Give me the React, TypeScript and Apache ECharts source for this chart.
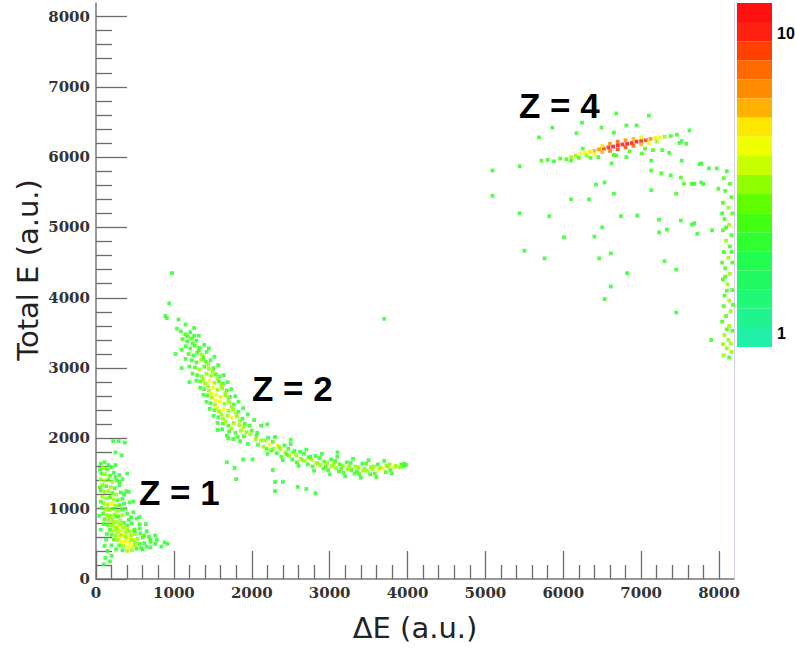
import React, { useEffect, useRef } from "react";
import * as echarts from "echarts";

// ---- axis ticks ----
const MAJOR_TICKS = [0, 1000, 2000, 3000, 4000, 5000, 6000, 7000, 8000];
const MINOR_TICKS = [200, 400, 600, 800, 1200, 1400, 1600, 1800, 2200, 2400, 2600, 2800, 3200, 3400, 3600, 3800, 4200, 4400, 4600, 4800, 5200, 5400, 5600, 5800, 6200, 6400, 6600, 6800, 7200, 7400, 7600, 7800];
const AXIS_MAX = 8192;

// ---- colour scale (log z, from 0.9 to 12.6 counts) ----
const PALETTE = ["#20f0a8", "#20f490", "#20f878", "#20fa60", "#20ff50", "#30ff30", "#40ff10", "#60ff00", "#90ff00", "#c8ff00", "#f0ff00", "#ffe800", "#ffb000", "#ff8c00", "#ff6a00", "#ff4000", "#ff2010", "#ff1010"];
const Z_LOG_MIN = -0.0467;
const Z_LOG_MAX = 1.1;

// ---- data: [ΔE, Total E, counts] ----
const Z1 = [
  [60,1640,2],[110,1660,2.5],[160,1620,2],[90,1580,3],[140,1560,2.5],[200,1590,2],[250,1620,2],[70,1500,2.5],[120,1490,3],[180,1470,2.5],
  [230,1510,2],[300,1480,2],[60,1420,3],[110,1400,3],[160,1410,2.5],[210,1380,3],[270,1400,2],[340,1420,2],[80,1340,3],[130,1320,2.5],
  [190,1310,3],[240,1290,2.5],[300,1330,2],
  [60,1260,2.5],[110,1240,3],[160,1250,3],[210,1220,2.5],[260,1200,3],[320,1230,2],[390,1250,2],[80,1170,3],[130,1150,3],[180,1160,2.5],
  [230,1130,3],[280,1120,2.5],[340,1140,2],[100,1080,3],[150,1060,3],[200,1070,4],[250,1040,3],[300,1050,2.5],[360,1070,2],[430,1090,2],
  [70,1010,2],[120,990,3],[170,980,3],[220,1000,2.5],[280,970,3],[330,990,2],
  [90,930,2.5],[140,910,3],[190,900,3],[240,920,3],[290,890,2.5],[340,910,3],[400,930,2],[480,950,2],[110,850,2.5],[160,830,3],
  [210,840,3],[260,810,3],[310,830,3],[360,800,2.5],[420,840,2],[520,860,2],[150,770,2.5],[200,760,3],[250,740,3],[300,760,4],
  [350,730,3],[400,760,2.5],[460,790,2],
  [180,700,2.5],[230,690,3],[280,670,3],[330,690,4],[380,660,3],[430,680,3],[490,700,2.5],[560,720,2],[200,630,2.5],[250,620,3],
  [300,600,4],[350,610,4],[400,590,4],[450,620,3],[500,640,3],[570,650,2],[650,680,2],[230,560,2.5],[280,550,3],[330,530,4],
  [380,540,5],[430,520,4],[480,550,3],[530,570,3],[600,590,2.5],[680,600,2],[760,620,2],
  [300,480,2.5],[350,470,3],[400,460,4],[450,470,4],[500,480,3],[560,500,2.5],[620,510,2],[700,530,2],[780,560,2],[880,520,2],
  [340,410,2],[400,400,3],[460,410,3],[520,430,2.5],[580,440,2],[650,460,2],
  [560,780,2],[620,620,2.5],[700,560,2.5],[760,500,2],[840,460,2],[920,500,2],[600,420,2],[700,450,2],[500,520,3],[450,560,3],
  [380,600,3],[320,630,3],[270,720,3],[220,800,3],[180,880,3],[150,1000,3],[260,890,2.5],[310,780,3],[400,700,3],[500,680,2.5],
  [450,880,2],[380,1000,2],[360,1200,2],[300,1380,2],[250,1450,2],[50,1560,2],[50,1300,2.5],[40,900,2],[100,780,2],[140,640,2],
  [200,480,2],[260,420,2],[110,470,2],[130,560,2],
  [220,1960,2],[290,1960,2],[370,1940,2],[250,1800,2],[330,1760,2],[420,1240,2],[480,1100,2],[560,880,2],[640,780,2],[120,300,2],
  [180,250,2],[100,210,2],[200,330,2],[150,400,2],[60,700,2],[60,1100,2],[400,1500,2]
];

const Z2 = [
  [1090,3520,2],[1150,3480,2.5],[1210,3510,2],[1260,3460,2],
  [1110,3410,2.5],[1170,3380,2],[1230,3420,2.5],[1290,3390,2],
  [1150,3310,2],[1210,3280,2.5],[1270,3320,2.5],[1330,3290,2],[1390,3330,2],
  [1190,3200,2.5],[1250,3180,2],[1300,3220,2.5],[1360,3190,3],[1420,3230,2],
  [1230,3110,2],[1290,3080,2.5],[1350,3120,3],[1410,3090,2.5],[1470,3110,2],
  [1270,3010,2.5],[1330,2980,3],[1390,3020,2.5],[1450,2990,3],[1510,3000,2],
  [1300,2900,2],[1360,2880,3],[1420,2920,3],[1480,2890,3],[1540,2910,2.5],[1590,2880,2],
  [1340,2810,2.5],[1400,2780,3],[1460,2820,4],[1520,2790,3],[1580,2810,2.5],[1630,2780,2],
  [1390,2700,2.5],[1450,2680,3],[1500,2720,4],[1560,2690,3],[1620,2710,3],[1680,2680,2],
  [1430,2610,2.5],[1490,2580,3],[1540,2620,4],[1600,2590,5],[1660,2610,3],[1720,2590,2],
  [1470,2500,2],[1530,2480,3],[1590,2520,4],[1650,2490,3],[1710,2510,3],[1770,2480,2],
  [1520,2400,2.5],[1580,2380,3],[1640,2420,4],[1700,2390,3],[1760,2410,3],[1830,2380,2],
  [1570,2300,2],[1630,2280,3],[1690,2320,3],[1750,2290,4],[1810,2310,3],[1880,2280,2],
  [1630,2210,2],[1700,2180,2.5],[1770,2220,3],[1840,2190,3],[1910,2210,2.5],[1970,2180,2],
  [1710,2100,2],[1790,2080,2.5],[1860,2110,3],[1930,2090,3],[2000,2110,2.5],[2070,2080,2],
  [2080,1910,2],[2120,1970,3],[2060,2040,2.5],
  [2190,1850,2.5],[2230,1910,4],[2170,1970,3],[2210,2010,2],
  [2320,1790,2],[2280,1850,3],[2330,1900,4],[2270,1950,2.5],
  [2380,1740,2.5],[2430,1800,3],[2370,1850,3],[2420,1900,2],
  [2520,1700,2],[2480,1750,3],[2530,1800,3],[2470,1850,2.5],
  [2580,1660,2.5],[2630,1710,3],[2570,1760,3],[2620,1810,2],
  [2720,1630,2],[2680,1680,3],[2730,1730,2.5],[2670,1780,2],
  [2780,1600,2.5],[2830,1650,3],[2770,1700,3],[2820,1750,2],
  [2920,1570,2],[2880,1620,3],[2930,1670,2.5],[2870,1720,2],
  [2980,1550,2.5],[3030,1600,3],[2970,1650,3],[3020,1700,2],
  [3120,1530,2],[3080,1580,3],[3130,1630,2.5],[3070,1680,2],
  [3180,1510,2.5],[3230,1560,3],[3170,1610,3],[3220,1660,2],
  [3320,1500,2],[3280,1550,2.5],[3330,1600,3],[3270,1650,2],
  [3380,1490,2.5],[3430,1540,3],[3370,1590,3],[3420,1640,2],
  [3520,1490,2],[3480,1540,3],[3530,1590,3],[3470,1640,2.5],
  [3580,1500,2.5],[3630,1550,4],[3570,1600,3],[3620,1630,2],
  [3720,1520,2],[3680,1570,4],[3730,1610,3],
  [3780,1550,2.5],[3830,1590,4],[3770,1630,3],
  [3900,1590,3],[3920,1630,2.5],[3980,1620,2.5],[3960,1640,2],
  [2150,1880,3],[2250,1830,2.5],[2350,1880,3],[2450,1770,2.5],[2550,1820,2],[2650,1690,3],[2750,1740,2.5],[2850,1640,3],[2950,1600,2.5],[3050,1640,3],
  [3150,1570,2.5],[3250,1600,3],[3350,1530,2.5],[3450,1570,3],[3550,1560,3],[3650,1580,3],[3750,1600,3],[3850,1610,3],[3950,1600,2],
  [1040,3560,2],[1320,3460,2],[1450,3280,2],[1520,3160,2],[1570,3040,2],[1640,2900,2],[1690,2800,2],[1740,2700,2],[1790,2600,2],[1830,2520,2],
  [1890,2430,2],[1950,2340,2],[2030,2260,2],[2120,2180,2],
  [1100,3260,2],[1150,3130,2],[1200,3020,2],[1240,2920,2],[1290,2820,2],[1340,2720,2],[1380,2620,2],[1420,2520,2],[1460,2420,2],[1510,2320,2],
  [1560,2220,2],[1620,2130,2],[1680,2040,2],[1760,1990,2],[1850,1960,2],[1950,1920,2],
  [2300,2020,2],[2500,1920,2],[2700,1840,2],[2900,1780,2],[3100,1740,2],[3300,1710,2],[3500,1690,2],[3700,1680,2],
  [2200,1780,2],[2400,1690,2],[2600,1610,2],[2800,1540,2],[3000,1490,2],[3200,1460,2],[3400,1440,2],[3600,1450,2],[3800,1500,2],
  [1180,3450,2.5],[1240,3350,2.5],[1320,3250,2.5],[1380,3150,2.5],[1440,3050,3],[1500,2950,3],[1560,2850,3],[1610,2750,3],[1660,2650,3],[1700,2550,3],
  [1740,2450,3],[1800,2350,3],[1850,2250,3],[1900,2160,3],[1980,2060,3],[2050,1990,3],
  [1380,2840,3],[1440,2740,3],[1480,2640,4],[1530,2540,4],[1560,2440,4],[1610,2340,3],[1660,2240,3],[1740,2140,3],[1820,2020,2.5],[1900,2030,2.5],
  [975,4350,2],[940,3920,2],[890,3740,2],[910,3710,2],[1060,3690,2],[1150,3620,2],[1260,3570,2],[1020,3200,2],[1100,3000,2],[1200,2800,2],
  [1700,2000,2],[1560,2120,2],[1680,1660,2],[1780,1580,2],[1800,1420,2],[1890,1700,2],[2010,1700,2],[2270,1550,2],[2300,1380,2],[2300,1250,2],
  [2400,1380,2],[2590,1310,2],[2700,1280,2],[2820,1220,2],[2200,2200,2],[2500,1980,2],[3700,3700,2],[3100,1800,2]
];

const Z4 = [
  [5720,5950,2.5],[5800,5960,2.5],[5880,5940,2],[5960,5980,2.5],[6040,5970,2.5],
  [6100,6000,3],[6160,6020,3],[6220,6050,4],[6280,6060,4],[6340,6080,5],[6400,6090,6],[6460,6110,7],[6520,6120,9],[6580,6140,10],[6640,6150,11],
  [6700,6170,12],[6760,6180,12],[6820,6190,12],[6880,6200,11],[6940,6220,11],[7000,6230,10],[7060,6240,9],[7120,6260,7],[7180,6270,5],[7240,6280,4],
  [7300,6290,3],[7380,6300,2.5],[7460,6320,2.5],
  [6300,6020,3],[6400,6040,4],[6500,6070,6],[6600,6090,8],[6700,6110,9],[6800,6140,9],[6900,6160,8],[7000,6180,6],[7100,6200,4],[7200,6220,3],
  [6500,6160,5],[6600,6190,7],[6700,6220,8],[6800,6240,7],[6900,6260,6],[7000,6280,4],[6200,5990,2.5],[6100,5950,2.5],[6350,5990,2.5],
  [6250,6120,2],[6450,6000,2.5],[6650,6030,2.5],[6850,6080,2.5],[7050,6120,2.5],[7150,6100,2.5],[7270,6100,2.5],[7360,6060,2],[6620,5910,2],[6680,6020,2.5],
  [6810,6000,2],[7010,6050,2.5],[7520,6230,2],[7580,6190,2],[7490,6200,2],
  [6490,6420,2.5],[6170,6340,2],[6650,6350,2],[6810,6450,2],[6940,6450,2],[5860,6420,2],[6240,6490,2],[6680,6620,2],[7100,6590,2],[7620,6380,2],
  [5690,6280,2],[7130,5950,2],[7520,5950,2],
  [5090,5810,2],[5440,5870,2],[5090,5450,2],[5440,5200,2],[5820,5160,2],[5500,4670,2],[5760,4560,2],[6010,4860,2],[6100,5400,2],[6330,5400,2],
  [6420,5610,2],[6530,5640,2],[6400,4870,2],[6500,5000,2],[6460,4560,2],[6610,4630,2],[6820,4350,2],[6610,4160,2],[6530,3980,2],[6740,5160,2],
  [6950,5170,2],[6650,5480,2],[7130,5530,2],[7230,5110,2],[7330,4970,2],[7230,4930,2],[7300,4520,2],[7450,4400,2],[7450,3790,2],[7510,5100,2],
  [7650,5040,2],[7720,4910,2],[7450,5480,2.5],[7550,5620,2.5],[7650,5620,2.5],[7770,5640,2],[7990,5550,2.5],[7130,5810,2.5],[7260,5770,2.5],[7380,5740,2],
  [7510,5710,2.5],[7770,5910,2],
  [7750,5900,2],[7680,5620,2],[7800,5620,2],[7870,5840,2],[7970,5840,2],[7680,5060,2],[7910,4960,2],[7900,3400,2]
];

const EDGE = [
  [8100,5800,2],[8060,5700,2.5],[8140,5620,2.5],[8080,5520,2.5],[8160,5430,2.5],[8050,5350,2.5],[8120,5280,3],[8170,5200,2.5],[8070,5120,2.5],[8130,5040,3],
  [8050,4960,2.5],[8160,4890,2.5],[8090,4810,3],[8140,4730,2.5],[8060,4650,2.5],[8120,4570,3],[8170,4500,2.5],[8080,4420,2.5],[8140,4340,3],[8050,4260,2.5],
  [8110,4190,3],[8170,4110,2.5],[8070,4030,2.5],[8130,3960,3],[8060,3880,2.5],[8150,3810,3],[8090,3740,2.5],[8040,3660,2.5],[8130,3600,3],[8170,3530,2.5],
  [8070,3470,3],[8120,3400,3],[8050,3340,3],[8100,3280,3],[8160,3230,3],[8060,3180,3],[8130,3150,2.5],[8090,5000,2.5],[8100,4100,2.5],[8100,3550,2.5],
  [8040,4500,2],[8180,3900,2.5],[8040,5200,2],[8160,4650,2.5],[8080,4300,2.5],[8150,3350,3]
];

const ALL_POINTS = [...Z1, ...Z2, ...Z4, ...EDGE];

const Y_NAME = "Total E (a.u.)";
const X_NAME = "\u0394E (a.u.)";

export default function App() {
  const ref = useRef<HTMLDivElement>(null);
  useEffect(() => {
    if (!ref.current) return;
    const chart = echarts.init(ref.current, null, { renderer: "svg" });
    const n = PALETTE.length;
    const step = (Z_LOG_MAX - Z_LOG_MIN) / n;
    const pieces = PALETTE.map((c, i) => ({
      gte: Math.pow(10, Z_LOG_MIN + i * step),
      lt: Math.pow(10, Z_LOG_MIN + (i + 1) * step),
      color: c,
    }));
    const labelFont = { fontFamily: "DejaVu Serif", fontWeight: "bold" as const, fontSize: 15, color: "#333", formatter: (v: number) => String(v) };
    const tickStyle = { color: "#6a6a6a", width: 1.3 };
    const axisCommon = (extra: any) => ({
      type: "value",
      min: 0,
      max: AXIS_MAX,
      splitLine: { show: false },
      ...extra,
    });
    chart.setOption({
      animation: false,
      backgroundColor: "#ffffff",
      grid: { left: 96, top: 3, width: 638, height: 576, containLabel: false },
      xAxis: [
        axisCommon({
          position: "bottom",
          axisLine: { show: true, lineStyle: { color: "#777", width: 1.5 } },
          axisTick: { show: true, inside: true, length: 28, customValues: MAJOR_TICKS, lineStyle: tickStyle },
          axisLabel: { ...labelFont, margin: 6, customValues: MAJOR_TICKS },
          name: X_NAME,
          nameLocation: "middle",
          nameGap: 34,
          nameTextStyle: { fontFamily: "DejaVu Sans", fontSize: 29, color: "#222" },
        }),
        axisCommon({
          position: "bottom",
          axisLine: { show: false },
          axisTick: { show: true, inside: true, length: 14, customValues: MINOR_TICKS, lineStyle: tickStyle },
          axisLabel: { show: false },
        }),
      ],
      yAxis: [
        axisCommon({
          position: "left",
          axisLine: { show: true, lineStyle: { color: "#777", width: 1.5 } },
          axisTick: { show: true, inside: true, length: 31, customValues: MAJOR_TICKS, lineStyle: tickStyle },
          axisLabel: { ...labelFont, margin: 6, customValues: MAJOR_TICKS },
        }),
        axisCommon({
          position: "left",
          axisLine: { show: false },
          axisTick: { show: true, inside: true, length: 16, customValues: MINOR_TICKS, lineStyle: tickStyle },
          axisLabel: { show: false },
        }),
        axisCommon({
          position: "right",
          axisLine: { show: true, lineStyle: { color: "#d6d0ea", width: 1 } },
          axisTick: { show: false },
          axisLabel: { show: false },
        }),
      ],
      visualMap: {
        type: "piecewise",
        dimension: 2,
        seriesIndex: 0,
        pieces,
        orient: "vertical",
        left: 737,
        top: 3,
        itemWidth: 35,
        itemHeight: 344 / n,
        itemGap: 0,
        itemSymbol: "rect",
        showLabel: false,
        padding: 0,
        selectedMode: false,
        hoverLink: false,
      },
      series: [
        {
          type: "scatter",
          xAxisIndex: 0,
          yAxisIndex: 0,
          symbol: "rect",
          symbolSize: 3.8,
          silent: true,
          itemStyle: { opacity: 0.85 },
          data: ALL_POINTS,
        },
      ],
      graphic: [
        {
          type: "text",
          x: 28,
          y: 270,
          rotation: Math.PI / 2,
          style: { text: Y_NAME, fontFamily: "DejaVu Sans", fontSize: 29, fill: "#222", align: "center", verticalAlign: "middle" },
        },
        { type: "text", x: 139, y: 492, style: { text: "Z = 1", fontFamily: "Liberation Sans", fontWeight: "bold", fontSize: 35, fill: "#000", align: "left", verticalAlign: "middle" } },
        { type: "text", x: 252, y: 388, style: { text: "Z = 2", fontFamily: "Liberation Sans", fontWeight: "bold", fontSize: 35, fill: "#000", align: "left", verticalAlign: "middle" } },
        { type: "text", x: 519, y: 105, style: { text: "Z = 4", fontFamily: "Liberation Sans", fontWeight: "bold", fontSize: 35, fill: "#000", align: "left", verticalAlign: "middle" } },
        { type: "text", x: 777, y: 33, style: { text: "10", fontFamily: "Liberation Sans", fontWeight: "bold", fontSize: 16, fill: "#000", align: "left", verticalAlign: "middle" } },
        { type: "text", x: 777, y: 333, style: { text: "1", fontFamily: "Liberation Sans", fontWeight: "bold", fontSize: 16, fill: "#000", align: "left", verticalAlign: "middle" } },
      ],
    });
    return () => chart.dispose();
  }, []);
  return <div ref={ref} style={{ width: 795, height: 651, position: "absolute", left: 0, top: 0 }} />;
}
